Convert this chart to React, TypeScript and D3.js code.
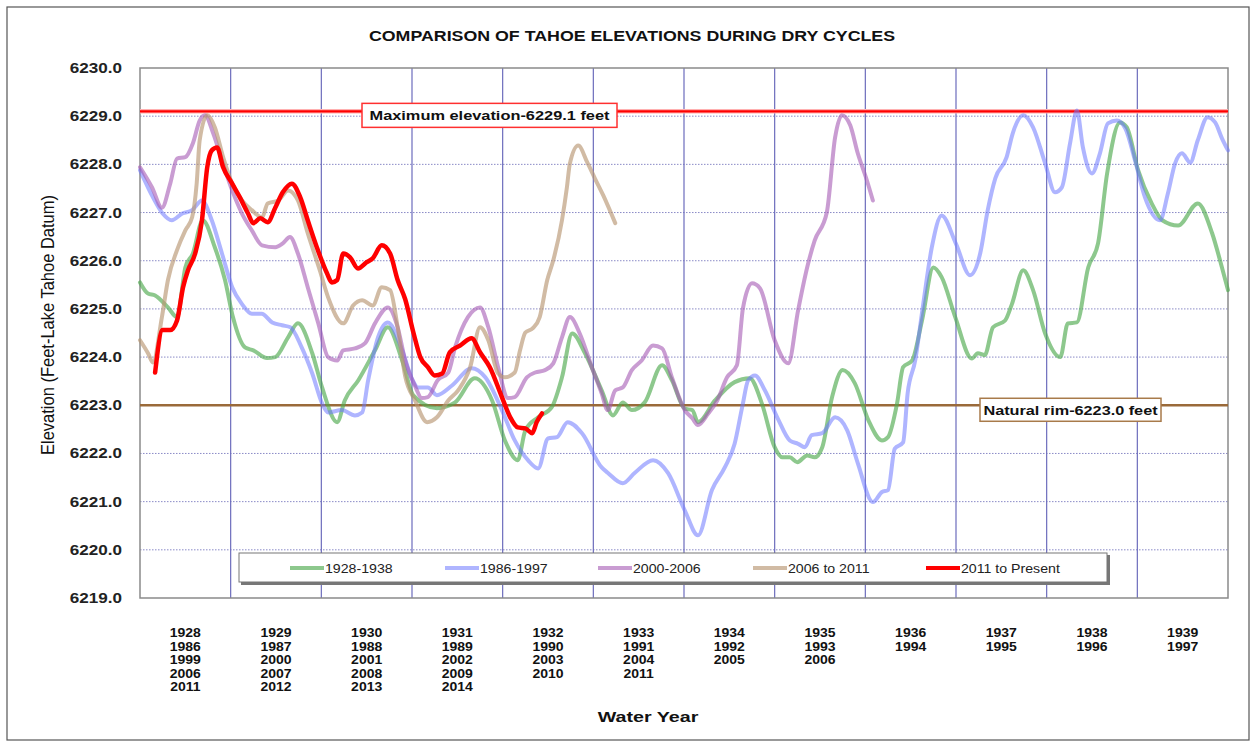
import React from "react";
import * as d3 from "d3";

type Pt = [number, number];

const TITLE = "COMPARISON OF TAHOE ELEVATIONS DURING DRY CYCLES";
const Y_TICKS = [6219, 6220, 6221, 6222, 6223, 6224, 6225, 6226, 6227, 6228, 6229, 6230];
const YEAR_LABELS: string[][] = [
  ["1928", "1986", "1999", "2006", "2011"],
  ["1929", "1987", "2000", "2007", "2012"],
  ["1930", "1988", "2001", "2008", "2013"],
  ["1931", "1989", "2002", "2009", "2014"],
  ["1932", "1990", "2003", "2010"],
  ["1933", "1991", "2004", "2011"],
  ["1934", "1992", "2005"],
  ["1935", "1993", "2006"],
  ["1936", "1994"],
  ["1937", "1995"],
  ["1938", "1996"],
  ["1939", "1997"],
];
const MAX_ELEV = 6229.1;
const RIM_ELEV = 6223.0;

// [month since start of first water year, elevation ft]
const s1928: Pt[] = [[0,6225.55],[1.06,6225.32],[2,6225.28],[3.7,6225.03],[4.9,6224.83],[6,6225.86],[7,6226.15],[8.3,6226.84],[9.9,6226.28],[11.25,6225.6],[12.3,6224.83],[13.9,6224.2],[15,6224.14],[16.8,6223.98],[17.9,6224.0],[19.6,6224.41],[20.9,6224.7],[22.8,6224.08],[24.1,6223.37],[26.1,6222.65],[27.1,6223.1],[28.9,6223.52],[31.1,6224.14],[32.8,6224.62],[34.7,6223.93],[36.2,6223.2],[39.3,6222.94],[41.7,6223.06],[44.3,6223.56],[46.6,6223.1],[48.3,6222.27],[50.0,6221.86],[51.0,6222.48],[52.7,6222.75],[54.5,6222.96],[55.85,6223.58],[57.2,6224.49],[58.9,6224.08],[61.1,6223.31],[62.6,6222.79],[63.9,6223.06],[65.1,6222.9],[66.8,6223.06],[69.1,6223.83],[70.4,6223.52],[72.1,6222.93],[73.1,6222.9],[73.85,6222.65],[76.1,6223.1],[78.7,6223.48],[80.7,6223.56],[82.3,6223.04],[84.0,6222.13],[85.0,6221.92],[86.0,6221.92],[87.0,6221.82],[88.3,6221.96],[89.3,6221.92],[90.3,6222.13],[91.6,6223.17],[93.0,6223.73],[94.6,6223.46],[96.4,6222.69],[98.2,6222.27],[99.0,6222.34],[100.2,6223.04],[101.0,6223.79],[102.2,6223.93],[103.5,6224.76],[105.0,6225.86],[106.1,6225.66],[107.9,6224.83],[110.1,6223.97],[110.9,6224.08],[111.8,6224.04],[112.9,6224.62],[114.5,6224.76],[115.4,6225.1],[116.9,6225.8],[118.2,6225.39],[119.8,6224.49],[121.8,6224.0],[122.8,6224.7],[124.0,6224.72],[125.5,6225.86],[126.8,6226.36],[128.0,6227.81],[129.7,6228.87],[130.6,6228.77],[132.1,6227.88],[133.9,6227.19],[135.3,6226.84],[137.4,6226.73],[140.0,6227.19],[141.9,6226.57],[143.2,6225.86],[144,6225.39]];

const s1986: Pt[] = [[0,6227.88],[1.7,6227.32],[3.0,6226.98],[4.2,6226.84],[5.6,6226.98],[6.9,6227.05],[8.2,6227.25],[9.5,6226.84],[10.85,6226.15],[12.2,6225.45],[13.5,6225.1],[14.8,6224.9],[16.1,6224.9],[17.5,6224.72],[18.8,6224.66],[19.9,6224.62],[21.4,6224.2],[22.8,6223.66],[24.1,6223.04],[24.9,6222.85],[26.7,6222.9],[28.45,6222.79],[29.4,6222.85],[30.2,6223.52],[31.5,6224.41],[32.8,6224.72],[34.7,6224.14],[36.0,6223.55],[36.8,6223.37],[38.1,6223.37],[39.3,6223.21],[41.3,6223.41],[43.9,6223.77],[45.7,6223.58],[47.9,6222.9],[49.6,6222.27],[51.35,6221.86],[52.7,6221.69],[54.0,6222.31],[55.2,6222.34],[56.6,6222.65],[58.5,6222.42],[61.1,6221.71],[61.9,6221.6],[63.9,6221.38],[65.5,6221.6],[67.9,6221.86],[69.9,6221.59],[72.1,6220.82],[73.85,6220.3],[75.7,6221.24],[77.4,6221.71],[78.7,6222.2],[79.7,6222.96],[80.5,6223.52],[81.4,6223.62],[82.7,6223.31],[84.4,6222.73],[86.0,6222.27],[87.1,6222.2],[88.0,6222.13],[88.9,6222.38],[90.3,6222.42],[92.0,6222.75],[93.6,6222.48],[95.0,6221.8],[97.0,6220.99],[98.2,6221.2],[99.0,6221.24],[99.9,6222.1],[101.0,6222.23],[101.6,6223.25],[102.6,6223.93],[103.6,6225.03],[104.8,6226.28],[106.1,6226.94],[108.0,6226.35],[109.85,6225.7],[111.2,6226.15],[112.2,6227.05],[113.2,6227.71],[114.7,6228.15],[115.5,6228.64],[116.9,6229.02],[118.2,6228.77],[119.8,6228.02],[121.1,6227.42],[122.0,6227.52],[123.1,6228.44],[124.0,6229.12],[124.8,6228.35],[126.0,6227.81],[127.05,6228.23],[128.1,6228.85],[129.3,6228.91],[130.4,6228.75],[131.7,6228.08],[133.0,6227.32],[135.0,6226.84],[136.05,6227.4],[137.0,6228.02],[137.9,6228.23],[139.0,6228.04],[140.0,6228.5],[141.3,6228.98],[142.3,6228.87],[143.2,6228.54],[144,6228.29]];

const s2000: Pt[] = [[0,6227.94],[1.6,6227.52],[2.9,6227.1],[4.0,6227.6],[4.9,6228.12],[6.0,6228.15],[7.0,6228.44],[7.9,6228.91],[8.6,6229.02],[9.7,6228.64],[10.85,6228.08],[12.2,6227.46],[13.5,6226.98],[14.8,6226.63],[16.15,6226.32],[17.9,6226.28],[18.9,6226.36],[19.85,6226.49],[20.9,6226.15],[22.2,6225.45],[23.6,6224.7],[24.9,6224.0],[26.1,6223.93],[26.9,6224.14],[28.45,6224.18],[29.8,6224.29],[31.1,6224.7],[32.8,6225.03],[34.1,6224.62],[35.1,6223.93],[36.4,6223.4],[37.3,6223.15],[38.1,6223.17],[39.4,6223.52],[40.8,6223.68],[41.7,6224.2],[43.4,6224.83],[45.0,6225.03],[46.1,6224.62],[47.4,6223.79],[48.7,6223.15],[49.6,6223.17],[51.2,6223.58],[52.3,6223.68],[53.6,6223.73],[54.7,6223.87],[55.85,6224.41],[56.9,6224.83],[58.2,6224.49],[59.8,6223.79],[61.1,6223.25],[61.9,6222.9],[62.9,6223.31],[63.9,6223.37],[65.1,6223.73],[66.4,6223.93],[67.9,6224.24],[69.1,6224.18],[70.4,6223.58],[72.1,6222.9],[73.1,6222.73],[73.85,6222.59],[75.2,6222.83],[76.4,6223.1],[77.7,6223.58],[79.0,6223.83],[79.8,6225.01],[81.0,6225.53],[82.05,6225.43],[84.0,6224.35],[85.8,6223.87],[87.1,6224.97],[88.3,6225.86],[89.3,6226.42],[90.9,6227.0],[92.0,6228.56],[92.9,6229.02],[94.0,6228.81],[95.0,6228.23],[96.2,6227.67],[97.0,6227.25]];

const s2006: Pt[] = [[0,6224.35],[1.06,6224.08],[1.7,6223.89],[2.9,6224.83],[3.7,6225.6],[4.9,6226.22],[6.0,6226.63],[6.9,6226.9],[7.5,6227.6],[7.9,6228.5],[8.9,6229.02],[9.9,6228.77],[11.0,6228.15],[12.2,6227.6],[13.5,6227.25],[14.8,6227.05],[16.15,6226.9],[16.9,6227.19],[18.3,6227.25],[19.6,6227.46],[20.9,6227.25],[22.2,6226.57],[23.8,6225.8],[24.9,6225.24],[26.9,6224.7],[28.2,6225.07],[29.4,6225.18],[30.8,6225.07],[32.0,6225.45],[33.1,6225.39],[34.1,6224.62],[35.1,6223.6],[36.4,6223.1],[38.0,6222.65],[39.3,6222.75],[40.8,6223.1],[42.1,6223.31],[43.7,6223.79],[45.0,6224.62],[46.1,6224.35],[47.4,6223.66],[48.3,6223.58],[49.6,6223.68],[50.3,6224.14],[51.0,6224.51],[52.0,6224.6],[52.9,6224.83],[53.9,6225.6],[54.7,6226.01],[55.85,6226.84],[56.5,6227.52],[56.9,6228.02],[58.0,6228.39],[59.2,6228.04],[60.2,6227.71],[61.3,6227.36],[62.9,6226.78]];

const s2011: Pt[] = [[2.0,6223.68],[3.0,6224.56],[4.0,6224.56],[4.9,6224.76],[5.7,6225.45],[6.35,6225.8],[7.3,6226.15],[8.2,6226.84],[8.9,6227.94],[9.5,6228.29],[10.2,6228.35],[11.0,6227.94],[12.2,6227.6],[13.2,6227.32],[14.3,6226.98],[15.0,6226.78],[15.9,6226.88],[16.9,6226.8],[17.9,6227.1],[18.9,6227.42],[20.1,6227.6],[21.2,6227.32],[22.2,6226.84],[23.4,6226.28],[24.75,6225.74],[25.4,6225.55],[26.1,6225.6],[26.9,6226.15],[27.8,6226.07],[28.85,6225.84],[30.0,6225.97],[30.8,6226.05],[32.0,6226.32],[33.1,6226.15],[34.1,6225.6],[35.1,6225.2],[36.2,6224.5],[37.1,6224.0],[38.1,6223.79],[39.0,6223.62],[40.0,6223.66],[41.0,6224.1],[42.35,6224.24],[43.9,6224.39],[45.0,6224.1],[46.3,6223.79],[47.9,6223.17],[49.0,6222.75],[50.0,6222.54],[51.0,6222.52],[51.9,6222.42],[52.5,6222.65],[53.2,6222.83]];

const SERIES = [
  { name: "1928-1938", data: s1928, color: "rgb(80,170,80)", opacity: 0.65, width: 4 },
  { name: "1986-1997", data: s1986, color: "rgb(110,120,255)", opacity: 0.55, width: 4 },
  { name: "2000-2006", data: s2000, color: "rgb(165,90,180)", opacity: 0.6, width: 4 },
  { name: "2006 to 2011", data: s2006, color: "rgb(185,150,115)", opacity: 0.65, width: 4 },
  { name: "2011 to Present", data: s2011, color: "#ff0000", opacity: 1, width: 4.5 },
];

const W = 1255, H = 743;
const M = { left: 140, right: 1228, top: 68, bottom: 598 };
const FONT = "Arial, 'Liberation Sans', Helvetica, sans-serif";

function Txt(props: {
  x: number; y: number; sx?: number; size: number; bold?: boolean;
  anchor?: "start" | "middle" | "end"; children: React.ReactNode; fill?: string;
}) {
  const { x, y, sx = 1.2, size, bold = true, anchor = "start", children, fill = "#111" } = props;
  return (
    <text transform={`translate(${x},${y}) scale(${sx},1)`} textAnchor={anchor} fontSize={size} fontWeight={bold ? "bold" : "normal"} fill={fill}>
      {children}
    </text>
  );
}

export default function App() {
  const x = d3.scaleLinear().domain([0, 144]).range([M.left, M.right]);
  const y = d3.scaleLinear().domain([6219, 6230]).range([M.bottom, M.top]);
  const line = d3
    .line<Pt>()
    .x((d) => x(d[0]))
    .y((d) => y(d[1]))
    .curve(d3.curveMonotoneX);
  const yearTicks = d3.range(1, 12).map((i) => i * 12);
  const legendX = [290, 445, 598, 753, 926];

  return (
    <svg width={W} height={H} style={{ position: "absolute", left: 0, top: 0, background: "#fff" }} fontFamily={FONT}>
      <rect x={7} y={7} width={1242} height={733} fill="#fff" stroke="#555" strokeWidth={1.2} />
      <Txt x={632} y={41} anchor="middle" size={14} sx={1.27}>{TITLE}</Txt>

      {/* horizontal dotted grid */}
      {Y_TICKS.slice(1, -1).map((t) => (
        <line key={"h" + t} x1={M.left} x2={M.right} y1={y(t)} y2={y(t)} stroke="#5a5ab0" strokeWidth={1} strokeDasharray="1.5,1.5" opacity={0.7} />
      ))}
      {/* vertical year grid */}
      {yearTicks.map((m) => (
        <line key={"v" + m} x1={x(m)} x2={x(m)} y1={M.top} y2={M.bottom} stroke="#6c6cbc" strokeWidth={1.2} />
      ))}
      {/* plot frame */}
      <rect x={M.left} y={M.top} width={M.right - M.left} height={M.bottom - M.top} fill="none" stroke="#8a8a8a" strokeWidth={1.5} />

      {/* y tick labels */}
      {Y_TICKS.map((t) => (
        <Txt key={"yl" + t} x={122} y={y(t) + 5} anchor="end" size={14} sx={1.22} fill="#222">{t.toFixed(1)}</Txt>
      ))}
      <text transform={`translate(54,${325}) rotate(-90) scale(1,1.15)`} textAnchor="middle" fontSize={16.5} fill="#111">Elevation (Feet-Lake Tahoe Datum)</text>

      {/* rim line */}
      <line x1={M.left} x2={M.right} y1={y(RIM_ELEV)} y2={y(RIM_ELEV)} stroke="#9a6a3a" strokeWidth={2.5} />
      {/* max line */}
      <line x1={M.left} x2={M.right} y1={y(MAX_ELEV)} y2={y(MAX_ELEV)} stroke="#ffb0b0" strokeWidth={4.5} />
      <line x1={M.left} x2={M.right} y1={y(MAX_ELEV)} y2={y(MAX_ELEV)} stroke="#ff0000" strokeWidth={2.2} />

      {/* series */}
      {SERIES.map((s) => (
        <path key={s.name} d={line(s.data) || ""} fill="none" stroke={s.color} strokeOpacity={s.opacity} strokeWidth={s.width} strokeLinejoin="round" strokeLinecap="round" />
      ))}

      {/* labels */}
      <rect x={362} y={y(MAX_ELEV) - 8} width={255} height={24} fill="#fff" stroke="#ff3030" strokeWidth={1.5} />
      <Txt x={489.5} y={y(MAX_ELEV) + 9} anchor="middle" size={13} sx={1.26}>Maximum elevation-6229.1 feet</Txt>
      <rect x={980} y={y(RIM_ELEV) - 7} width={181} height={23} fill="#fff" stroke="#a87a4a" strokeWidth={1.5} />
      <Txt x={1070.5} y={y(RIM_ELEV) + 10} anchor="middle" size={13} sx={1.25}>Natural rim-6223.0 feet</Txt>

      {/* legend */}
      <rect x={241} y={555} width={869} height={30} fill="#777" />
      <rect x={239} y={553} width={868} height={29} fill="#fff" stroke="#777" strokeWidth={1} />
      {SERIES.map((s, i) => (
        <g key={"lg" + s.name}>
          <line x1={legendX[i]} x2={legendX[i] + 34} y1={568} y2={568} stroke={s.color} strokeOpacity={s.opacity} strokeWidth={4} />
          <Txt x={legendX[i] + 35} y={572.5} size={12} bold={false} sx={1.18} fill="#222">{s.name}</Txt>
        </g>
      ))}

      {/* year labels */}
      {YEAR_LABELS.map((col, i) => (
        <g key={"yr" + i}>
          {col.map((lab, j) => (
            <Txt key={lab + j} x={x(i * 12 + 6)} y={637 + j * 13.6} anchor="middle" size={12.5} sx={1.12}>{lab}</Txt>
          ))}
        </g>
      ))}
      <Txt x={648} y={722} anchor="middle" size={15.5} sx={1.27}>Water Year</Txt>
    </svg>
  );
}
